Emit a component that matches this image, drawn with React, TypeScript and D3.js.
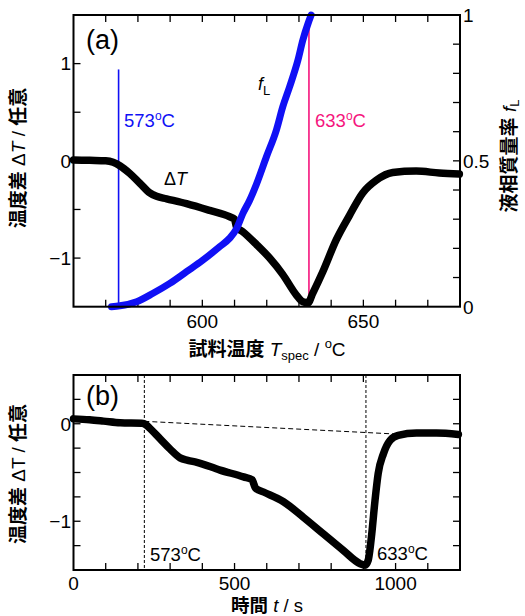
import React from 'react';
import * as d3 from 'd3';

// ---- data ----
const topTemp = [560, 565, 570, 572.3, 574.4, 577.5, 580.6, 583.7, 585.8, 588.9, 595.1, 602.3, 608.5, 610.0, 610.6, 612.6, 616.8, 620.9, 625, 629.2, 631.2, 632.8, 634.3, 637.4, 641.6, 645.7, 649.8, 654, 659.1, 666.4, 673.6, 679.8];
const topDeltaT = [0.01, 0.005, 0.0, -0.015, -0.05, -0.13, -0.23, -0.33, -0.365, -0.39, -0.44, -0.51, -0.575, -0.6, -0.68, -0.73, -0.86, -1.0, -1.17, -1.38, -1.45, -1.46, -1.36, -1.14, -0.81, -0.56, -0.33, -0.2, -0.12, -0.105, -0.125, -0.135];

const fLTemp = [571.8, 574.4, 579.6, 584.7, 589.9, 595.1, 600.2, 605.4, 608.5, 610.5, 612.6, 614.7, 616.8, 619.9, 623, 625, 627.1, 629.7, 631.2, 632.8, 633.8];
const fLValue = [0.0, 0.003, 0.017, 0.046, 0.08, 0.12, 0.16, 0.206, 0.235, 0.265, 0.32, 0.365, 0.42, 0.514, 0.606, 0.686, 0.754, 0.846, 0.914, 0.97, 1.0];

const botTime = [0, 50, 93, 145, 212, 225, 238, 269, 300, 331, 355, 383, 455, 528, 555, 560, 565, 590, 652, 714, 776, 838, 890, 905, 915, 920, 926, 936, 946, 962, 983, 1008, 1065, 1127, 1195];
const botDeltaT = [0.05, 0.04, 0.027, 0.01, 0.005, -0.01, -0.05, -0.155, -0.26, -0.35, -0.375, -0.395, -0.475, -0.545, -0.575, -0.62, -0.66, -0.7, -0.8, -0.96, -1.13, -1.3, -1.435, -1.45, -1.4, -1.3, -1.13, -0.79, -0.51, -0.31, -0.17, -0.12, -0.096, -0.096, -0.11];

const baselineTime = [220, 1010];
const baselineDeltaT = [0.025, -0.107];

const topXTickLabels = [600, 650];
const topYTickLabels = [-1, 0, 1];
const fLTickLabels = [0, 0.5, 1];
const botXTickLabels = [0, 500, 1000];
const botYTickLabels = [-1, 0];

const topMarkerTemps = [574, 633.1];
const botMarkerTimes = [220, 908];

// ---- layout ----
const W = 525, H = 616;
const L = 73.5, R = 460;
const aTop = 15, aBot = 306.7;
const bTop = 375, bBot = 570;
const TICK = 7;
const LATIN = 'Liberation Sans, Arial, Helvetica, sans-serif';
const CJK = 'Noto Sans CJK JP, Noto Sans CJK SC, sans-serif';
const BLUE = '#1010f5';
const PINK = '#f5147d';

const fmt = (v: number) => (v < 0 ? '\u2212' + String(-v) : String(v));

export default function App() {
  const xA = d3.scaleLinear().domain([560, 680]).range([L, R]);
  const yA = d3.scaleLinear().domain([-1.5, 1.5]).range([aBot, aTop]);
  const yF = d3.scaleLinear().domain([0, 1]).range([aBot, aTop]);
  const xB = d3.scaleLinear().domain([0, 1200]).range([L, R]);
  const yB = d3.scaleLinear().domain([-1.5, 0.5]).range([bBot, bTop]);

  const lineA = d3.line<number>().x((_, i) => xA(topTemp[i])).y((d) => yA(d)).curve(d3.curveMonotoneX);
  const lineF = d3.line<number>().x((_, i) => xA(fLTemp[i])).y((d) => yF(d)).curve(d3.curveMonotoneX);
  const lineB = d3.line<number>().x((_, i) => xB(botTime[i])).y((d) => yB(d)).curve(d3.curveMonotoneX);

  const topXMinor = d3.range(570, 680, 10);
  const topYMinor = d3.range(-1, 1.5001, 0.5);
  const fMinor = d3.range(0.1, 1, 0.1);
  const botXMinor = d3.range(100, 1200, 100);
  const botYMinor = d3.range(-1.25, 0.5, 0.25);

  const tickStyle = { stroke: '#000', strokeWidth: 1.3 };

  return (
    <svg width={W} height={H} style={{ position: 'absolute', left: 0, top: 0, background: '#fff' }}>
      {/* ===== Panel (a) ===== */}
      {topXMinor.map((v) => (
        <g key={'ax' + v}>
          <line x1={xA(v)} x2={xA(v)} y1={aBot} y2={aBot - TICK} {...tickStyle} />
          <line x1={xA(v)} x2={xA(v)} y1={aTop} y2={aTop + TICK} {...tickStyle} />
        </g>
      ))}
      {topYMinor.map((v) => (
        <line key={'ay' + v} x1={L} x2={L + TICK} y1={yA(v)} y2={yA(v)} {...tickStyle} />
      ))}
      {fMinor.map((v) => (
        <line key={'af' + v} x1={R} x2={R - TICK} y1={yF(v)} y2={yF(v)} {...tickStyle} />
      ))}
      {topXTickLabels.map((v) => (
        <text key={'axl' + v} x={xA(v)} y={aBot + 21} textAnchor="middle" fontFamily={LATIN} fontSize={19}>{v}</text>
      ))}
      {topYTickLabels.map((v) => (
        <text key={'ayl' + v} x={L - 2.5} y={yA(v)} dy="0.36em" textAnchor="end" fontFamily={LATIN} fontSize={19}>{fmt(v)}</text>
      ))}
      {fLTickLabels.map((v) => (
        <text key={'afl' + v} x={R + 3} y={yF(v)} dy="0.36em" textAnchor="start" fontFamily={LATIN} fontSize={19}>{v}</text>
      ))}

      {/* marker lines */}
      <line x1={xA(topMarkerTemps[0])} x2={xA(topMarkerTemps[0])} y1={yA(0.94)} y2={aBot} stroke={BLUE} strokeWidth={1.6} />
      <line x1={xA(topMarkerTemps[1])} x2={xA(topMarkerTemps[1])} y1={aTop} y2={aBot} stroke={PINK} strokeWidth={1.6} />

      {/* curves */}
      <path d={lineA(topDeltaT) || ''} fill="none" stroke="#000" strokeWidth={7.5} strokeLinecap="round" strokeLinejoin="round" />
      <path d={lineF(fLValue) || ''} fill="none" stroke={BLUE} strokeWidth={7} strokeLinecap="round" strokeLinejoin="round" />

      {/* frame */}
      <rect x={L} y={aTop} width={R - L} height={aBot - aTop} fill="none" stroke="#000" strokeWidth={2} />

      {/* annotations */}
      <text x={86} y={49} fontFamily={LATIN} fontSize={27}>(a)</text>
      <text x={124} y={126.7} fontFamily={LATIN} fontSize={18.5} fill={BLUE}>573<tspan dy={-7} fontSize={12}>o</tspan><tspan dy={7}>C</tspan></text>
      <text x={315} y={126.7} fontFamily={LATIN} fontSize={18.5} fill={PINK}>633<tspan dy={-7} fontSize={12}>o</tspan><tspan dy={7}>C</tspan></text>
      <text x={164} y={185} fontFamily={LATIN} fontSize={18}>Δ<tspan fontStyle="italic">T</tspan></text>
      <text x={258} y={90} fontFamily={LATIN} fontSize={18} fontStyle="italic">f<tspan fontStyle="normal" fontSize={13} dy={5}>L</tspan></text>

      {/* axis titles */}
      <text x={267} y={356} textAnchor="middle" fontSize={19}>
        <tspan fontFamily={CJK} fontWeight="bold">試料温度</tspan>
        <tspan fontFamily={LATIN} fontStyle="italic"> T</tspan>
        <tspan fontFamily={LATIN} fontSize={13} dy={4}>spec</tspan>
        <tspan fontFamily={LATIN} dy={-4}> / </tspan>
        <tspan fontFamily={LATIN} fontSize={13} dy={-8}>o</tspan>
        <tspan fontFamily={LATIN} dy={8}>C</tspan>
      </text>
      <text transform={`translate(25,158) rotate(-90)`} textAnchor="middle" fontSize={19}>
        <tspan fontFamily={CJK} fontWeight="bold">温度差</tspan>
        <tspan fontFamily={LATIN}> Δ</tspan>
        <tspan fontFamily={LATIN} fontStyle="italic">T</tspan>
        <tspan fontFamily={LATIN}> / </tspan>
        <tspan fontFamily={CJK} fontWeight="bold">任意</tspan>
      </text>
      <text transform={`translate(516,156) rotate(-90)`} textAnchor="middle" fontSize={19}>
        <tspan fontFamily={CJK} fontWeight="bold">液相質量率</tspan>
        <tspan fontFamily={LATIN} fontStyle="italic"> f</tspan>
        <tspan fontFamily={LATIN} fontSize={13} dy={3}>L</tspan>
      </text>

      {/* ===== Panel (b) ===== */}
      {botXMinor.map((v) => (
        <g key={'bx' + v}>
          <line x1={xB(v)} x2={xB(v)} y1={bBot} y2={bBot - TICK} {...tickStyle} />
          <line x1={xB(v)} x2={xB(v)} y1={bTop} y2={bTop + TICK} {...tickStyle} />
        </g>
      ))}
      {botYMinor.map((v) => (
        <g key={'by' + v}>
          <line x1={L} x2={L + TICK} y1={yB(v)} y2={yB(v)} {...tickStyle} />
          <line x1={R} x2={R - TICK} y1={yB(v)} y2={yB(v)} {...tickStyle} />
        </g>
      ))}
      {botXTickLabels.map((v) => (
        <text key={'bxl' + v} x={xB(v)} y={bBot + 20} textAnchor="middle" fontFamily={LATIN} fontSize={19}>{v}</text>
      ))}
      {botYTickLabels.map((v) => (
        <text key={'byl' + v} x={L - 2.5} y={yB(v)} dy="0.36em" textAnchor="end" fontFamily={LATIN} fontSize={19}>{fmt(v)}</text>
      ))}

      {botMarkerTimes.map((t) => (
        <line key={'bm' + t} x1={xB(t)} x2={xB(t)} y1={bTop} y2={bBot} stroke="#000" strokeWidth={1} strokeDasharray="3,2" />
      ))}
      <line x1={xB(baselineTime[0])} x2={xB(baselineTime[1])} y1={yB(baselineDeltaT[0])} y2={yB(baselineDeltaT[1])} stroke="#000" strokeWidth={1} strokeDasharray="5,3" />

      <path d={lineB(botDeltaT) || ''} fill="none" stroke="#000" strokeWidth={7.5} strokeLinecap="round" strokeLinejoin="round" />

      <rect x={L} y={bTop} width={R - L} height={bBot - bTop} fill="none" stroke="#000" strokeWidth={2} />

      <text x={86} y={404.5} fontFamily={LATIN} fontSize={27}>(b)</text>
      <text x={150} y={561} fontFamily={LATIN} fontSize={18.5}>573<tspan dy={-7} fontSize={12}>o</tspan><tspan dy={7}>C</tspan></text>
      <text x={377} y={560} fontFamily={LATIN} fontSize={18.5}>633<tspan dy={-7} fontSize={12}>o</tspan><tspan dy={7}>C</tspan></text>

      <text x={267} y={611.5} textAnchor="middle" fontSize={18.5}>
        <tspan fontFamily={CJK} fontWeight="bold">時間</tspan>
        <tspan fontFamily={LATIN} fontStyle="italic"> t</tspan>
        <tspan fontFamily={LATIN}> / s</tspan>
      </text>
      <text transform={`translate(25,474) rotate(-90)`} textAnchor="middle" fontSize={19}>
        <tspan fontFamily={CJK} fontWeight="bold">温度差</tspan>
        <tspan fontFamily={LATIN}> Δ</tspan>
        <tspan fontFamily={LATIN}>T</tspan>
        <tspan fontFamily={LATIN}> / </tspan>
        <tspan fontFamily={CJK} fontWeight="bold">任意</tspan>
      </text>
    </svg>
  );
}
